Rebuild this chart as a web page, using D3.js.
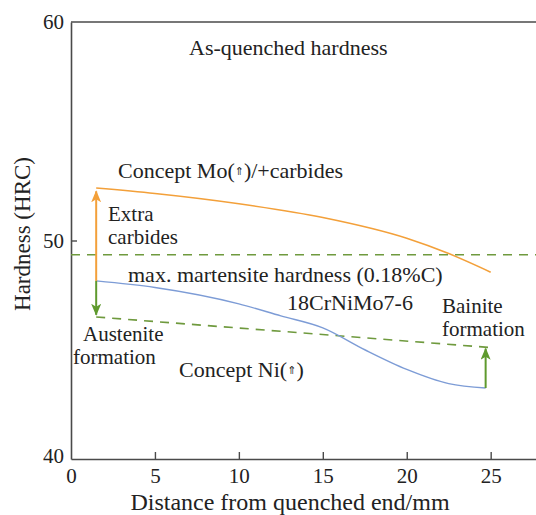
<!DOCTYPE html>
<html><head><meta charset="utf-8">
<script src="https://cdn.jsdelivr.net/npm/d3@7"></script>
<style>
html,body{margin:0;padding:0;background:#fff;}
svg{display:block;}
svg text{font-family:'Liberation Serif','Tinos','DejaVu Serif',serif;}
</style></head>
<body><svg id="c" width="536" height="515"></svg>
<script>
// ---- data ----
const xTicks = [0, 5, 10, 15, 20, 25];
const yTicks = [40, 50, 60];
const moX = [1.5, 5, 10, 15, 20, 22.5, 25];
const moY = [52.4, 52.15, 51.68, 51.05, 50.1, 49.4, 48.55];
const baseX = [1.5, 5, 10, 12.5, 15, 17.5, 20, 22.5, 24.7];
const baseY = [48.15, 47.85, 47.1, 46.55, 46.0, 45.0, 44.1, 43.45, 43.25];
const maxMartX = [0, 27.7];
const maxMartY = [49.35, 49.35];
const niX = [1.5, 25];
const niY = [46.5, 45.1];
const arrowCarb = {x: 1.5, from: 48.15, to: 52.25};
const arrowAust = {x: 1.5, from: 48.15, to: 46.6};
const arrowBain = {x: 24.7, from: 43.25, to: 45.05};

const FONT = "'Liberation Serif','Tinos','DejaVu Serif',serif";
const svg = d3.select("#c");
const L = 71, R = 536, T = 22, B = 459;
const x = d3.scaleLinear().domain([0, 27.7]).range([L, R]);
const y = d3.scaleLinear().domain([40, 60]).range([B, T]);

const ORANGE = "#f3a03a", BLUE = "#7d9cd6", GREEN = "#6f9a3e", GREEN_ARR = "#5f9a2e", AX = "#4a4a4a";

// markers
const defs = svg.append("defs");
function marker(id, color){
  defs.append("marker").attr("id", id).attr("viewBox","0 0 12 10")
    .attr("refX", 11).attr("refY", 5).attr("markerWidth", 12).attr("markerHeight", 10)
    .attr("markerUnits","userSpaceOnUse").attr("orient","auto")
    .append("path").attr("d","M0,0 L12,5 L0,10 L3,5 Z").attr("fill", color);
}
marker("mO", ORANGE); marker("mG", GREEN_ARR);

// axes
const gx = svg.append("g").attr("transform", `translate(0,${B})`)
  .call(d3.axisBottom(x).tickValues(xTicks).tickSizeInner(-7).tickSizeOuter(0).tickPadding(8));
const gy = svg.append("g").attr("transform", `translate(${L},0)`)
  .call(d3.axisLeft(y).tickValues(yTicks).tickSizeInner(-6).tickSizeOuter(0).tickPadding(7));
[gx, gy].forEach(g => {
  g.attr("font-family", FONT);
  g.select(".domain").attr("stroke", AX).attr("stroke-width", 1.6);
  g.selectAll(".tick line").attr("stroke", AX).attr("stroke-width", 1.4);
  g.selectAll(".tick text").attr("fill", "#222").attr("font-size", 21)
    .style("font-family", FONT);
});
gx.selectAll(".tick").filter(d => d === 0).select("line").remove();
gy.selectAll(".tick").filter(d => d !== 50).select("line").remove();
gy.selectAll(".tick text").attr("dy", d => d === 40 ? "0.15em" : "0.32em");
gx.selectAll(".tick text").attr("dy", "0.75em");
// top frame line
svg.append("line").attr("x1", x(0)).attr("x2", x(27.7)).attr("y1", y(60)).attr("y2", y(60))
  .attr("stroke", AX).attr("stroke-width", 1.6);

// lines
const line = d3.line().x(d => x(d[0])).y(d => y(d[1]));
const smooth = d3.line().x(d => x(d[0])).y(d => y(d[1])).curve(d3.curveMonotoneX);
const zip = (a, b) => a.map((v, i) => [v, b[i]]);

svg.append("path").attr("d", line(zip(maxMartX, maxMartY))).attr("fill","none")
  .attr("stroke", GREEN).attr("stroke-width", 1.6).attr("stroke-dasharray","9,7");
svg.append("path").attr("d", line(zip(niX, niY))).attr("fill","none")
  .attr("stroke", GREEN).attr("stroke-width", 1.6).attr("stroke-dasharray","9,7");
svg.append("path").attr("d", smooth(zip(moX, moY))).attr("fill","none")
  .attr("stroke", ORANGE).attr("stroke-width", 1.6);
svg.append("path").attr("d", smooth(zip(baseX, baseY))).attr("fill","none")
  .attr("stroke", BLUE).attr("stroke-width", 1.4);

// arrows
function arrow(a, color, mk){
  svg.append("line").attr("x1", x(a.x)).attr("x2", x(a.x)).attr("y1", y(a.from)).attr("y2", y(a.to))
    .attr("stroke", color).attr("stroke-width", 2).attr("marker-end", `url(#${mk})`);
}
arrow(arrowCarb, ORANGE, "mO");
arrow(arrowAust, GREEN_ARR, "mG");
arrow(arrowBain, GREEN_ARR, "mG");

// annotations
const labels = [
  {t: "As-quenched hardness", x: 189, y: 55, s: 22},
  {t: "Concept Mo(\u21D1)/+carbides", x: 118, y: 178, s: 22},
  {t: "Extra", x: 108, y: 221, s: 21},
  {t: "carbides", x: 108, y: 244, s: 21},
  {t: "max. martensite hardness (0.18%C)", x: 128, y: 282, s: 22},
  {t: "18CrNiMo7-6", x: 287, y: 310, s: 22},
  {t: "Bainite", x: 442, y: 313, s: 21},
  {t: "formation", x: 442, y: 336, s: 21},
  {t: "Austenite", x: 83, y: 341, s: 21},
  {t: "formation", x: 73, y: 364, s: 21},
  {t: "Concept Ni(\u21D1)", x: 179, y: 377, s: 22}
];
labels.forEach(l => {
  const txt = svg.append("text").attr("x", l.x).attr("y", l.y).attr("font-size", l.s).attr("fill", "#222")
    .style("font-family", FONT);
  const parts = l.t.split("\u21D1");
  if (parts.length > 1) {
    txt.append("tspan").text(parts[0]);
    txt.append("tspan").attr("font-size", 11).attr("dy", -3).style("font-family","'DejaVu Sans'").text("\u21D1");
    txt.append("tspan").attr("dy", 3).text(parts[1]);
  } else txt.text(l.t);
});

// axis titles
svg.append("text").attr("x", 290).attr("y", 510).attr("text-anchor","middle")
  .attr("font-size", 24).attr("fill","#222").style("font-family", FONT).text("Distance from quenched end/mm");
svg.append("text").attr("transform","translate(30,234) rotate(-90)").attr("text-anchor","middle")
  .attr("font-size", 23).attr("fill","#222").style("font-family", FONT).text("Hardness (HRC)");
</script></body></html>
